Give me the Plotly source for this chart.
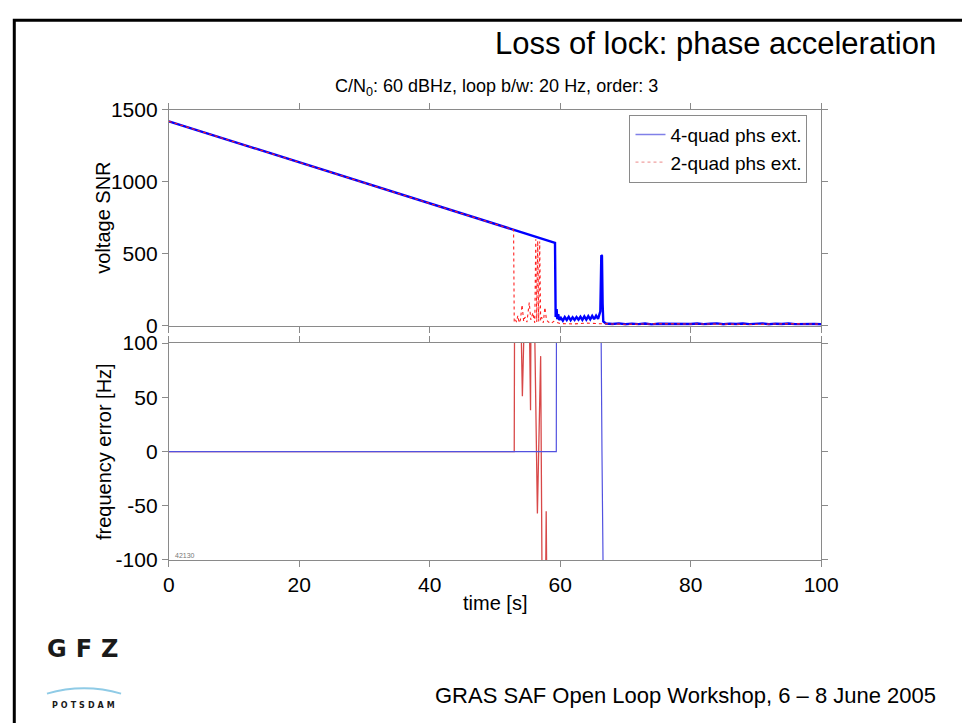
import plotly.graph_objects as go

# ---------------- data ----------------
# voltage SNR, 4-quadrant phase extraction
t_snr_4q = [0, 5, 10, 15, 20, 25, 30, 35, 40, 45, 50, 55, 59.2,
            59.3, 59.45, 59.55, 59.7, 59.85, 60.1, 60.4, 60.7, 61.0, 61.3, 61.6,
            61.9, 62.2, 62.5, 62.8, 63.1, 63.4, 63.7, 64.0, 64.3, 64.6, 64.9,
            65.2, 65.5, 65.8, 66.0, 66.15, 66.3, 66.4, 66.5, 66.6,
            67, 68, 69, 70, 71, 72, 73, 74, 75, 76, 77, 78, 79, 80, 81, 82, 83,
            84, 85, 86, 87, 88, 89, 90, 91, 92, 93, 94, 95, 96, 97, 98, 99, 100]
snr_4q = [1420, 1349, 1277, 1206, 1135, 1064, 992, 921, 850, 778, 707, 636, 576,
          60, 115, 45, 80, 40, 55, 35, 60, 40, 62, 38,
          58, 40, 60, 42, 62, 40, 64, 42, 66, 44, 68,
          45, 70, 48, 75, 100, 490, 485, 150, 30,
          15, 12, 16, 10, 14, 11, 15, 9, 13, 12, 16, 10, 14, 12, 15, 11, 13,
          16, 10, 14, 12, 15, 11, 13, 16, 10, 14, 12, 15, 11, 13, 14, 12, 10]

# voltage SNR, 2-quadrant phase extraction
t_snr_2q = [0, 5, 10, 15, 20, 25, 30, 35, 40, 45, 50, 52.85,
            52.95, 53.1, 53.3, 53.5, 53.7, 53.9, 54.15, 54.4, 54.6, 54.9, 55.25,
            55.5, 55.8, 56.1, 56.25, 56.4, 56.55, 56.7, 56.85, 57.0, 57.15, 57.4,
            57.65, 57.9, 58.2, 58.6, 59.0, 59.5, 60, 62, 64, 66, 68, 70, 75, 80,
            85, 90, 95, 100]
snr_2q = [1420, 1349, 1277, 1206, 1135, 1064, 992, 921, 850, 778, 707, 666,
          30, 45, 25, 70, 20, 40, 145, 30, 60, 25, 160,
          40, 90, 20, 600, 25, 590, 30, 585, 35, 60, 20,
          127, 40, 25, 15, 30, 20, 15, 12, 18, 14, 12, 10, 13, 11,
          12, 10, 13, 11]

# frequency error [Hz], 4-quadrant phase extraction
t_freq_4q = [0, 59.4, 59.45, 66.1, 66.4, 66.8, 100]
freq_4q = [0, 0, 250, 250, 0, -250, -250]

# frequency error [Hz], 2-quadrant phase extraction
t_freq_2q = [0, 52.95, 53.05, 53.6, 54.2, 54.45, 55.0, 55.45, 55.6, 55.75,
             56.5, 57.0, 57.35, 57.6, 57.85, 58.1, 100]
freq_2q = [0, 0, 250, 250, 51, 250, 250, 38, 250, 250,
           -57, 88, -250, -250, -55, -250, -250]

x_ticks = [0, 20, 40, 60, 80, 100]
snr_ticks = [0, 500, 1000, 1500]
freq_ticks = [-100, -50, 0, 50, 100]
freq_tick_text = ["-100", "-50", "0", "50", "100"]

# ---------------- layout helpers ----------------
W, H = 962, 723
FONT = "Liberation Sans, Arial, sans-serif"
GRAY = "#8a8a8a"


def px(x):
    """page x pixel -> paper fraction"""
    return x / W


def py(y):
    """page y pixel (from top) -> paper fraction"""
    return 1 - y / H


fig = go.Figure()

# upper panel
fig.add_trace(go.Scatter(x=t_snr_4q, y=snr_4q, mode="lines", xaxis="x", yaxis="y",
                         line=dict(color="#0000ff", width=2.4), showlegend=False))
fig.add_trace(go.Scatter(x=t_snr_2q, y=snr_2q, mode="lines", xaxis="x", yaxis="y",
                         line=dict(color="#ff2020", width=1.1, dash="dot"),
                         showlegend=False))
# lower panel
fig.add_trace(go.Scatter(x=t_freq_2q, y=freq_2q, mode="lines", xaxis="x2", yaxis="y2",
                         line=dict(color="#d84848", width=1.3), showlegend=False))
fig.add_trace(go.Scatter(x=t_freq_4q, y=freq_4q, mode="lines", xaxis="x2", yaxis="y2",
                         line=dict(color="#5252e0", width=1.2), showlegend=False))

# legend entries
fig.add_trace(go.Scatter(x=[None], y=[None], mode="lines", name="4-quad phs ext.",
                         xaxis="x", yaxis="y",
                         line=dict(color="#8080e8", width=1.5)))
fig.add_trace(go.Scatter(x=[None], y=[None], mode="lines", name="2-quad phs ext.",
                         xaxis="x", yaxis="y",
                         line=dict(color="#f0a0a0", width=1.2, dash="dot")))

axis_common = dict(showline=True, linecolor=GRAY, linewidth=1, mirror="ticks",
                   ticks="outside", ticklen=6, tickcolor=GRAY, tickwidth=1,
                   showgrid=False, zeroline=False,
                   tickfont=dict(family=FONT, size=21, color="black"))

x_dom = [px(167), px(836)]
fig.update_layout(
    width=W, height=H,
    margin=dict(l=0, r=0, t=0, b=0),
    paper_bgcolor="white", plot_bgcolor="white",
    font=dict(family=FONT, color="black"),
    xaxis=dict(domain=x_dom, range=[0, 100], tickvals=x_ticks,
               showticklabels=False, anchor="y", **axis_common),
    yaxis=dict(domain=[py(324), py(101)], range=[0, 1500], tickvals=snr_ticks,
               anchor="x", **axis_common),
    xaxis2=dict(domain=x_dom, range=[0, 100], tickvals=x_ticks,
                anchor="y2", **axis_common),
    yaxis2=dict(domain=[py(566), py(342)], range=[-100, 100], tickvals=freq_ticks,
                ticktext=freq_tick_text, anchor="x2", **axis_common),
    legend=dict(x=px(822), y=py(106), xanchor="right", yanchor="top",
                bgcolor="white", bordercolor=GRAY, borderwidth=1,
                font=dict(family=FONT, size=19, color="black"),
                tracegroupgap=0),
)

annotations = [
    dict(text="Loss of lock: phase acceleration", x=px(956), y=py(33),
         xanchor="right", yanchor="middle",
         font=dict(family=FONT, size=31, color="black")),
    dict(text="C/N<sub>0</sub>: 60 dBHz, loop b/w: 20 Hz, order: 3",
         x=px(503), y=py(78), xanchor="center", yanchor="middle",
         font=dict(family=FONT, size=18, color="black")),
    dict(text="voltage SNR", x=px(100), y=py(213), textangle=-90,
         xanchor="center", yanchor="middle",
         font=dict(family=FONT, size=20, color="black")),
    dict(text="frequency error [Hz]", x=px(100), y=py(454), textangle=-90,
         xanchor="center", yanchor="middle",
         font=dict(family=FONT, size=20, color="black")),
    dict(text="time [s]", x=px(501), y=py(610), xanchor="center", yanchor="middle",
         font=dict(family=FONT, size=20, color="black")),
    dict(text="42130", x=px(171), y=py(561), xanchor="left", yanchor="middle",
         font=dict(family=FONT, size=7, color="#777777")),
    dict(text="GRAS SAF Open Loop Workshop, 6 \u2013 8 June 2005", x=px(956),
         y=py(706), xanchor="right", yanchor="middle",
         font=dict(family=FONT, size=22, color="black")),
    dict(text="<b><span style=\"letter-spacing:9px\">GFZ</span></b>", x=px(84),
         y=py(658), xanchor="center", yanchor="middle",
         font=dict(family="DejaVu Sans, sans-serif", size=24, color="#1a1a1a")),
    dict(text="<b><span style=\"letter-spacing:3px\">POTSDAM</span></b>", x=px(81),
         y=py(716), xanchor="center", yanchor="middle",
         font=dict(family="DejaVu Sans, sans-serif", size=8, color="#1a1a1a")),
]
for a in annotations:
    a.update(xref="paper", yref="paper", showarrow=False)
fig.update_layout(annotations=annotations)

shapes = [
    # slide frame (left and top edges fall inside the page)
    dict(type="rect", xref="paper", yref="paper",
         x0=px(8.5), y0=py(8.5), x1=1.05, y1=-0.05,
         line=dict(color="black", width=3), fillcolor="rgba(0,0,0,0)"),
    # logo swoosh
    dict(type="path", xref="paper", yref="paper",
         path=f"M {px(42)},{py(704)} Q {px(80)},{py(693)} {px(118)},{py(704)}",
         line=dict(color="#8fcbe6", width=2)),
]
fig.update_layout(shapes=shapes)

fig.write_html("out.html")
